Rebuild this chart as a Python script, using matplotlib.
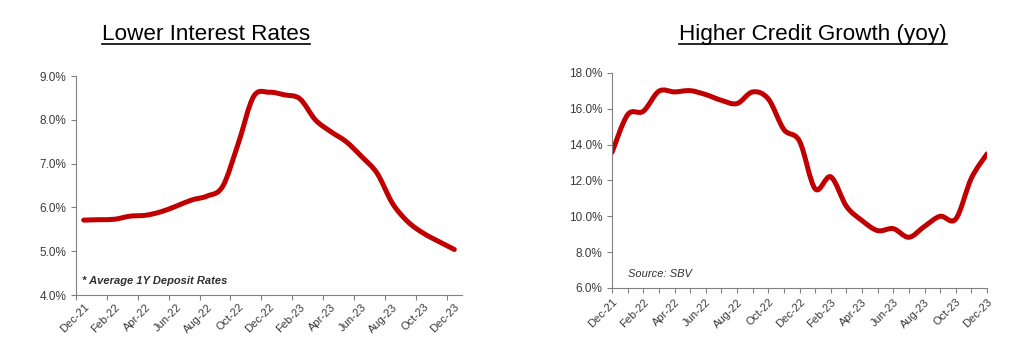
import numpy as np
import matplotlib.pyplot as plt
from matplotlib.path import Path
from matplotlib.patches import PathPatch
from matplotlib.lines import Line2D

plt.rcParams['font.family'] = ['Liberation Sans', 'DejaVu Sans']

# monthly series, Dec-21 .. Dec-23
months = ['Dec-21', 'Jan-22', 'Feb-22', 'Mar-22', 'Apr-22', 'May-22', 'Jun-22',
          'Jul-22', 'Aug-22', 'Sep-22', 'Oct-22', 'Nov-22', 'Dec-22', 'Jan-23',
          'Feb-23', 'Mar-23', 'Apr-23', 'May-23', 'Jun-23', 'Jul-23', 'Aug-23',
          'Sep-23', 'Oct-23', 'Nov-23', 'Dec-23']
deposit_rate = [5.71, 5.72, 5.73, 5.80, 5.82, 5.90, 6.03, 6.17, 6.26, 6.48,
                7.45, 8.53, 8.63, 8.57, 8.48, 8.00, 7.73, 7.50, 7.16, 6.78,
                6.09, 5.67, 5.41, 5.22, 5.04]
credit_growth = [13.57, 15.67, 15.86, 16.98, 16.94, 17.01, 16.79, 16.47, 16.29,
                 16.94, 16.55, 14.84, 14.19, 11.53, 12.20, 10.56, 9.76, 9.20,
                 9.31, 8.83, 9.44, 10.00, 9.85, 12.13, 13.48]

RED = '#C00000'
GREY = '#3a3a3a'


def smooth_path(x, y):
    # catmull-rom style bezier through every point (like a smoothed excel line)
    pts = np.column_stack([x, y]).astype(float)
    verts = [pts[0]]
    codes = [Path.MOVETO]
    n = len(pts)
    for i in range(n - 1):
        p0 = pts[max(i - 1, 0)]
        p1 = pts[i]
        p2 = pts[i + 1]
        p3 = pts[min(i + 2, n - 1)]
        verts += [p1 + (p2 - p0) / 6, p2 - (p3 - p1) / 6, p2]
        codes += [Path.CURVE4] * 3
    return Path(verts, codes)


def style_axes(ax):
    for s in ['top', 'right']:
        ax.spines[s].set_visible(False)
    for s in ['left', 'bottom']:
        ax.spines[s].set_color('#808080')
        ax.spines[s].set_linewidth(0.8)
    ax.tick_params(axis='both', colors='#808080', labelcolor=GREY, labelsize=8,
                   length=3.5, width=0.8)
    ax.tick_params(axis='y', labelsize=8.5)
    ax.yaxis.set_major_formatter(plt.FuncFormatter(lambda v, p: f'{v:.1f}%'))


fig = plt.figure(figsize=(10.24, 3.49), dpi=100)
ax1 = fig.add_axes([0.0742, 0.1547, 0.3770, 0.6275])
ax2 = fig.add_axes([0.5977, 0.1748, 0.3662, 0.6163])

x = np.arange(len(months))

# left: deposit rates, ticks between categories
ax1.add_patch(PathPatch(smooth_path(x, deposit_rate), fill=False, edgecolor=RED,
                        linewidth=3.6, capstyle='round', joinstyle='round'))
ax1.set_xlim(-0.5, 24.5)
ax1.set_ylim(4, 9)
ax1.set_yticks(np.arange(4, 9.01, 1))
style_axes(ax1)
ax1.set_xticks(np.arange(-0.5, 24, 2))
ax1.set_xticklabels([])
ax1.set_xticks(x[::2], minor=True)
ax1.set_xticklabels(months[::2], minor=True, rotation=45, ha='right',
                    rotation_mode='anchor', fontsize=8, color=GREY)
ax1.tick_params(axis='x', which='minor', length=0, pad=5)
ax1.text(0.016, 0.064, '* Average 1Y Deposit Rates', transform=ax1.transAxes,
         fontsize=8, style='italic', fontweight='bold', color='#303030',
         va='center', ha='left')

# right: credit growth, ticks on categories
ax2.add_patch(PathPatch(smooth_path(x, credit_growth), fill=False, edgecolor=RED,
                        linewidth=3.6, capstyle='round', joinstyle='round'))
ax2.set_xlim(0, 24)
ax2.set_ylim(6, 18)
ax2.set_yticks(np.arange(6, 18.01, 2))
style_axes(ax2)
ax2.set_xticks(x)
ax2.set_xticklabels([m if i % 2 == 0 else '' for i, m in enumerate(months)],
                    rotation=45, ha='right', rotation_mode='anchor')
ax2.tick_params(axis='x', pad=3)
ax2.text(0.043, 0.065, 'Source: SBV', transform=ax2.transAxes, fontsize=8,
         style='italic', color='#303030', va='center', ha='left')

# underlined titles
titles = [(206, 'Lower Interest Rates'), (813, 'Higher Credit Growth (yoy)')]
fig.canvas.draw()
renderer = fig.canvas.get_renderer()
for xc, label in titles:
    t = fig.text(xc / 1024, 1 - 40 / 349, label, ha='center', va='baseline',
                 fontsize=16.2, color='black')
    bb = t.get_window_extent(renderer)
    yl = 1 - 43.5 / 349
    fig.add_artist(Line2D([bb.x0 / 1024, bb.x1 / 1024], [yl, yl],
                          transform=fig.transFigure, color='black', linewidth=1.2))

fig.savefig('out.png', dpi=100)
